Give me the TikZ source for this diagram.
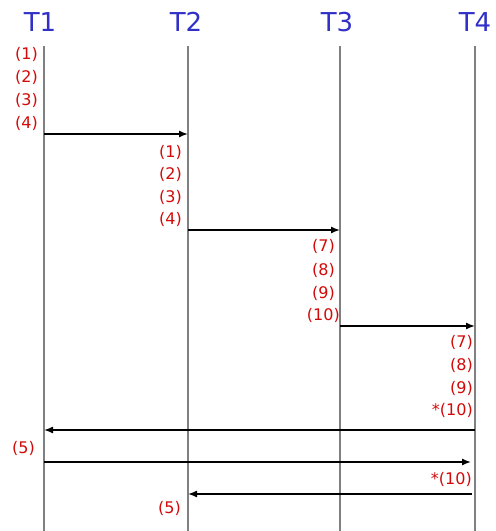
\documentclass[tikz,border=0pt]{standalone}
\usepackage{fontspec}
\setmainfont{DejaVu Sans}
\usepackage{xcolor}
\usetikzlibrary{arrows.meta,positioning,calc}

\definecolor{procblue}{RGB}{48,48,200}
\definecolor{stepred}{RGB}{210,10,10}

\begin{document}
\begin{tikzpicture}[
    x=1pt, y=-1pt,
    proc/.style={font=\fontsize{26}{28}\selectfont, text=procblue, inner sep=0pt},
    lifeline/.style={draw=gray, line width=2pt},
    msg/.style={draw=black, line width=1.4pt, -{Latex[length=9pt,width=7pt]}},
    steplbl/.style={font=\fontsize{16}{18}\selectfont, text=stepred, inner sep=0pt, anchor=east}
]
\useasboundingbox (0,0) rectangle (496,531);

% processes and their lifelines
\foreach \name/\xx in {T1/40, T2/186, T3/337, T4/475}{
    \node[proc] (\name) at (\xx,22) {\name};
}
\foreach \name/\xx in {T1/44, T2/188, T3/340, T4/475}{
    \coordinate (\name top) at (\xx,46);
    \coordinate (\name bot) at (\xx,531);
    \draw[lifeline] (\name top) -- (\name bot);
}

% step labels left of each lifeline
\foreach \xx/\yy/\txt in {
    38/54/(1), 38/77/(2), 38/100/(3), 38/123/(4),
    182/152/(1), 182/174/(2), 182/197/(3), 182/219/(4),
    335/246/(7), 335/270/(8), 335/293/(9), 340/315/(10),
    473/342/(7), 473/365/(8), 473/388/(9), 473/410/*(10),
    35/448/(5), 472/479/*(10), 181/508/(5)}{
    \node[steplbl] at (\xx,\yy) {\txt};
}

% messages
\coordinate (a1) at (44,134);  \coordinate (b1) at (188,134);
\coordinate (a2) at (188,230); \coordinate (b2) at (340,230);
\coordinate (a3) at (340,326); \coordinate (b3) at (475,326);
\coordinate (a4) at (475,430); \coordinate (b4) at (44,430);
\coordinate (a5) at (44,462);  \coordinate (b5) at (471,462);
\coordinate (a6) at (472,494); \coordinate (b6) at (188,494);
\foreach \i in {1,...,6}
    \draw[msg] (a\i) -- (b\i);
\end{tikzpicture}
\end{document}
